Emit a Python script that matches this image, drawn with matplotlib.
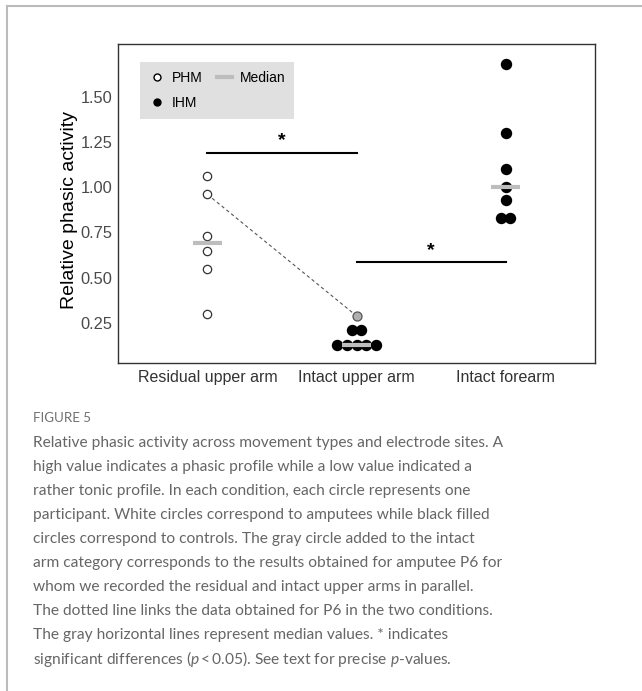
import numpy as np
import matplotlib
matplotlib.use("Agg")
import matplotlib.pyplot as plt
from matplotlib.lines import Line2D

# ---- data ----
categories = ["Residual upper arm", "Intact upper arm", "Intact forearm"]
residual_phm = [1.06, 0.96, 0.73, 0.65, 0.55, 0.30]
upper_ihm = [0.21, 0.21, 0.13, 0.13, 0.13, 0.13, 0.13]
upper_p6 = 0.29
forearm_ihm = [1.68, 1.30, 1.10, 1.00, 0.93, 0.83, 0.83]
sig_pairs = [(1, 2, 1.19), (2, 3, 0.585)]
yticks = [0.25, 0.50, 0.75, 1.00, 1.25, 1.50]

caption_title = "FIGURE 5"
caption_lines = [
    "Relative phasic activity across movement types and electrode sites. A",
    "high value indicates a phasic profile while a low value indicated a",
    "rather tonic profile. In each condition, each circle represents one",
    "participant. White circles correspond to amputees while black filled",
    "circles correspond to controls. The gray circle added to the intact",
    "arm category corresponds to the results obtained for amputee P6 for",
    "whom we recorded the residual and intact upper arms in parallel.",
    "The dotted line links the data obtained for P6 in the two conditions.",
    "The gray horizontal lines represent median values. * indicates",
    "significant differences ($p$\u2009<\u20090.05). See text for precise $p$-values.",
]

plt.rcParams['font.family'] = ['Liberation Sans', 'DejaVu Sans']
plt.rcParams['mathtext.fontset'] = 'custom'
plt.rcParams['mathtext.rm'] = 'Lato'
plt.rcParams['mathtext.it'] = 'Lato:italic'


def swarm(values, pos, step=0.064):
    # spread equal values side by side
    vals = np.asarray(values)
    xs = np.full(len(vals), float(pos))
    for v in np.unique(vals):
        idx = np.where(vals == v)[0]
        n = len(idx)
        xs[idx] = pos + (np.arange(n) - (n - 1) / 2) * step
    return xs, vals


fig = plt.figure(figsize=(6.42, 6.91), dpi=100)
ax = fig.add_axes([0.1838, 0.4747, 0.743, 0.4616])

x1, y1 = swarm(residual_phm, 1)
x2, y2 = swarm(upper_ihm, 2)
x3, y3 = swarm(forearm_ihm, 3)

# dotted line linking P6
ax.plot([1, 2], [residual_phm[1], upper_p6], ls=(0, (3, 2.5)), color='#555555', lw=0.8, zorder=1)

ax.plot(x1, y1, 'o', ms=6, mfc='white', mec='#333333', mew=0.9, zorder=3)
ax.plot(x2, y2, 'o', ms=7.2, mfc='black', mec='black', zorder=3)
ax.plot([2], [upper_p6], 'o', ms=6.5, mfc='#b0b0b0', mec='#555555', mew=0.9, zorder=3)
ax.plot(x3, y3, 'o', ms=7.2, mfc='black', mec='black', zorder=3)

# medians
for pos, vals in [(1, residual_phm), (2, upper_ihm), (3, forearm_ihm)]:
    m = np.median(vals)
    ax.plot([pos - 0.1, pos + 0.1], [m, m], color='#bdbdbd', lw=3, solid_capstyle='butt', zorder=4)

# significance bars
for a, b, h in sig_pairs:
    ax.plot([a, b], [h, h], color='black', lw=1.5, zorder=2)
    ax.text((a + b) / 2, h + 0.065, '*', ha='center', va='center', fontsize=14, fontweight='bold')

ax.set_xlim(0.4, 3.6)
ax.set_ylim(0.03, 1.79)
ax.set_xticks([1, 2, 3])
ax.set_xticklabels(categories, fontsize=11.5, color='#333333')
ax.set_yticks(yticks)
ax.set_yticklabels([f"{t:.2f}" for t in yticks], fontsize=11.8, color='#4a4a4a')
ax.tick_params(length=0)
ax.tick_params(axis='y', pad=4)
ax.tick_params(axis='x', pad=5)
ax.set_ylabel('Relative phasic activity', fontsize=14, color='black')
ax.yaxis.set_label_coords(-0.084, 0.48)
for s in ax.spines.values():
    s.set_color('#333333')
    s.set_linewidth(1.0)

handles = [
    Line2D([], [], ls='none', marker='o', ms=5, mfc='white', mec='black', label='PHM'),
    Line2D([], [], ls='none', marker='o', ms=5, mfc='black', mec='black', label='IHM'),
    Line2D([], [], color='#bdbdbd', lw=3, label='Median'),
]
leg = ax.legend(handles=handles, ncol=2, loc='upper left', bbox_to_anchor=(0.046, 0.945),
                fontsize=10, frameon=True, fancybox=False, borderaxespad=0,
                handlelength=1.15, handletextpad=0.5, columnspacing=1.0,
                labelspacing=0.8, borderpad=0.65)
leg.get_frame().set_facecolor('#e0e0e0')
leg.get_frame().set_edgecolor('none')
leg.get_frame().set_alpha(1)

# figure border (top and left)
fig.add_artist(Line2D([7 / 642, 1], [1 - 6 / 691, 1 - 6 / 691], color='#bbbbbb', lw=1.5))
fig.add_artist(Line2D([7 / 642, 7 / 642], [0, 1 - 6 / 691], color='#bbbbbb', lw=1.5))

# caption
fig.text(33 / 642, 1 - 418 / 691, caption_title, fontsize=9.6, color='#707070',
         family='Lato', va='center', ha='left')
for i, line in enumerate(caption_lines):
    y = 443 + i * 24
    fig.text(33 / 642, 1 - y / 691, line, fontsize=11.2, color='#666666',
             family='Lato', va='center', ha='left')

fig.savefig('out.png', dpi=100)
